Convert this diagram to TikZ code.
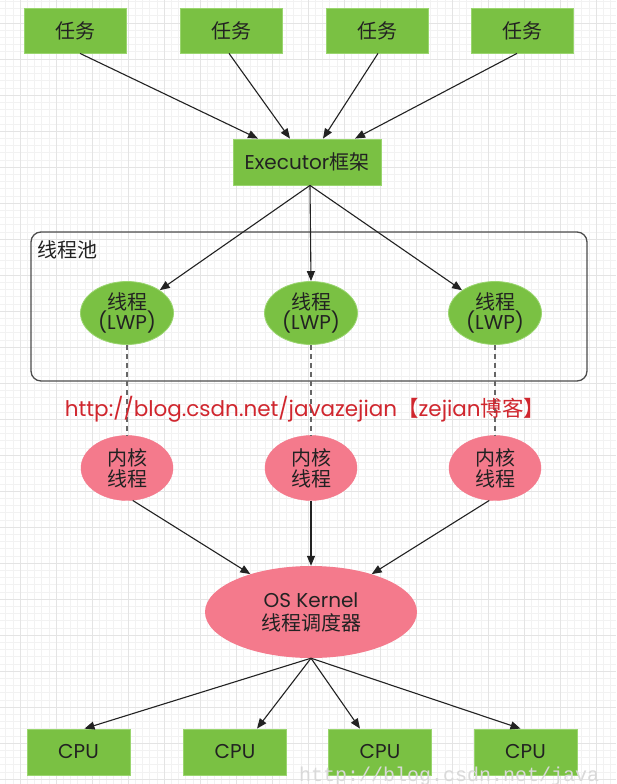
\documentclass[tikz,border=0pt]{standalone}
\usepackage{fontspec}
\setmainfont{Poppins}
\newfontfamily\cjk{Noto Sans CJK SC}
\newfontfamily\wmfont{Liberation Mono}
\usetikzlibrary{arrows.meta,shapes.geometric,calc}
\definecolor{boxgreen}{HTML}{7AC143}
\definecolor{greenedge}{HTML}{9AD56F}
\definecolor{pinkfill}{HTML}{F47A8C}
\definecolor{redtext}{HTML}{D0262E}
\definecolor{inkgray}{HTML}{222222}
\definecolor{minorgrid}{HTML}{F2F2F2}
\definecolor{majorgrid}{HTML}{E4E4E4}
\tikzset{
  greenbox/.style={draw=greenedge, line width=0.8pt, fill=boxgreen, minimum width=102pt, minimum height=45pt, inner sep=0pt, text=inkgray, font=\fontsize{20}{22}\selectfont},
  greenell/.style={ellipse, draw=greenedge, line width=0.8pt, fill=boxgreen, minimum width=93pt, minimum height=63pt, inner sep=0pt, align=center, text=inkgray, font=\fontsize{20}{20.5}\selectfont},
  pinkell/.style={ellipse, draw=pinkfill, fill=pinkfill, minimum width=92pt, minimum height=65pt, inner sep=0pt, align=center, text=inkgray, font=\fontsize{20}{21}\selectfont},
  conn/.style={draw=inkgray, line width=1.1pt, -{Triangle[length=10pt,width=8pt]}},
  dashconn/.style={draw=gray!80!black, line width=1.1pt, dash pattern=on 5pt off 4pt},
}
\begin{document}
\begin{tikzpicture}[x=1pt,y=-1pt]
\useasboundingbox (0,0) rectangle (616,784);
\fill[white] (0,0) rectangle (616,784);
\begin{scope}
\clip (0,0) rectangle (616,784);
\foreach \i in {0,...,86} {\draw[minorgrid, line width=0.6pt] ({5.6+7.2*\i},0) -- ++(0,784);}
\foreach \i in {0,...,109} {\draw[minorgrid, line width=0.6pt] (0,{1.4+7.2*\i}) -- ++(616,0);}
\foreach \i in {0,...,17} {\draw[majorgrid, line width=0.8pt] ({20+36*\i},0) -- ++(0,784);}
\foreach \i in {0,...,22} {\draw[majorgrid, line width=0.8pt] (0,{23+36*\i}) -- ++(616,0);}
\end{scope}

% tasks
\node[greenbox] (t1) at (75,30.5) {\cjk 任务};
\node[greenbox] (t2) at (231,30.5) {\cjk 任务};
\node[greenbox] (t3) at (377,30.5) {\cjk 任务};
\node[greenbox] (t4) at (522,30.5) {\cjk 任务};
\node[greenbox, minimum width=148pt, minimum height=46pt] (exec) at (307,162) {Executor{\cjk 框架}};

% pool
\node[draw=gray!60!black, line width=1.3pt, rounded corners=10pt, minimum width=556pt, minimum height=149pt, inner sep=0pt] (pool) at (309,306.5) {};
\node[anchor=west, inner sep=0pt, text=inkgray, font=\fontsize{20}{20}\selectfont] (poollabel) at (37,250) {\cjk 线程池};

\node[greenell] (g1) at (127,313) {{\cjk 线程}\\(LWP)};
\node[greenell] (g2) at (311,313) {{\cjk 线程}\\(LWP)};
\node[greenell] (g3) at (495,313) {{\cjk 线程}\\(LWP)};

\node[pinkell] (p1) at (127,468) {\cjk 内核\\\cjk 线程};
\node[pinkell] (p2) at (311,468) {\cjk 内核\\\cjk 线程};
\node[pinkell] (p3) at (495,468) {\cjk 内核\\\cjk 线程};

\node[ellipse, fill=pinkfill, minimum width=212pt, minimum height=92pt, inner sep=0pt, align=center, text=inkgray, font=\fontsize{20}{23}\selectfont] (kernel) at (311,612) {OS Kernel\\{\cjk 线程调度器}};

\node[greenbox, minimum width=103pt, minimum height=46pt] (c1) at (78.5,752) {CPU};
\node[greenbox, minimum width=103pt, minimum height=46pt] (c2) at (235,752) {CPU};
\node[greenbox, minimum width=103pt, minimum height=46pt] (c3) at (380,752) {CPU};
\node[greenbox, minimum width=103pt, minimum height=46pt] (c4) at (525.5,752) {CPU};

% dashed
\draw[dashconn] (g1.south) -- (p1.north);
\draw[dashconn] (g2.south) -- (p2.north);
\draw[dashconn] (g3.south) -- (p3.north);

% watermark text
\node[inner sep=0pt, text=redtext, font=\fontsize{21.5}{22}\selectfont] (wm) at (305,409) {http://blog.csdn.net/javazejian{\cjk 【}zejian{\cjk 博客】}};

% arrows
\draw[conn] ($(t1.south)+(5,0)$) -- ($(exec.north)+(-49,0)$);
\draw[conn] ($(t2.south)+(-2,0)$) -- ($(exec.north)+(-17,0)$);
\draw[conn] ($(t3.south)+(1,0)$) -- ($(exec.north)+(16,0)$);
\draw[conn] ($(t4.south)+(-5,0)$) -- ($(exec.north)+(48,0)$);

\draw[conn] ($(exec.south)+(3,0)$) -- (g1);
\draw[conn] ($(exec.south)+(3,0)$) -- (g2.north);
\draw[conn] ($(exec.south)+(3,0)$) -- (g3);

\draw[conn] (p1.-80) -- (kernel.148);
\draw[conn] (p2.south) -- (kernel.north);
\draw[conn] (p3.-100) -- (kernel.32);

\draw[conn] (kernel.south) -- ($(c1.north)+(6,0)$);
\draw[conn] (kernel.south) -- ($(c2.north)+(22,0)$);
\draw[conn] (kernel.south) -- ($(c3.north)+(-20,0)$);
\draw[conn] (kernel.south) -- ($(c4.north)+(-5,0)$);

% bottom faint watermark
\begin{scope}
\clip (0,0) rectangle (616,784);
\node[anchor=base west, inner sep=0pt, text=gray!30, font=\wmfont\fontsize{20}{20}\selectfont] (csdnwm) at (299,781) {http://blog.csdn.net/java};
\end{scope}
\end{tikzpicture}
\end{document}
